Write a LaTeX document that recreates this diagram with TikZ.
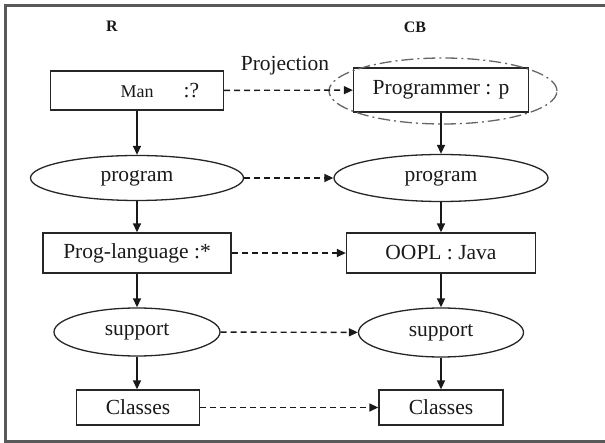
\documentclass[tikz,border=0pt]{standalone}
\usepackage{fontspec}
\setmainfont{Liberation Serif}
\usetikzlibrary{shapes.geometric,arrows.meta}
\tikzstyle{concept} = [draw, shape=rectangle, inner sep=0pt, line width=1.3pt, draw=black!85, text=black!90, font=\fontsize{21.5}{25}\selectfont]
\tikzstyle{relation} = [draw, shape=ellipse, inner sep=0pt, line width=1.3pt, draw=black!85, text=black!90, font=\fontsize{21.5}{25}\selectfont]
\tikzstyle{side} = [font=\bfseries\fontsize{16}{19}\selectfont, text=black!90]
\tikzstyle{link} = [-{Triangle[length=9pt,width=8pt]}, line width=1.4pt, black!90]
\tikzstyle{proj} = [link, dash pattern=on 6pt off 4pt]

\begin{document}
\begin{tikzpicture}[x=1pt,y=-1pt]
    \useasboundingbox (0,0) rectangle (605,443);
    \draw [line width=2.5pt, black!65] (612,5.5) -- (5.5,5.5) -- (5.5,441.5) -- (612,441.5);
    \draw (112,26) node[side] (r) {R};
    \draw (415,27) node[side] (cb) {CB};
    \draw (285,66) node[text=black!90, font=\fontsize{21.5}{25}\selectfont] (projection) {Projection};
    \draw (137,90.5) node[concept, minimum width=173pt, minimum height=39pt] (man) {\hspace*{46pt}{\fontsize{18}{21}\selectfont Man}\hspace{30pt}:?};
    \draw (441,90) node[concept, minimum width=175pt, minimum height=44pt] (programmer) {Programmer : p};
    \draw (443,91) node[draw, shape=ellipse, line width=1.3pt, black!60, dash pattern=on 12pt off 4pt on 2pt off 4pt, minimum width=228pt, minimum height=66pt] (focus) {};
    \draw (137,178) node[relation, minimum width=213pt, minimum height=45pt] (programl) {program};
    \draw (441,178) node[relation, minimum width=214pt, minimum height=47pt] (programr) {program};
    \draw (137,253) node[concept, minimum width=188pt, minimum height=40pt] (langl) {Prog-language :*};
    \draw (441,253) node[concept, minimum width=189pt, minimum height=40pt] (langr) {OOPL : Java};
    \draw (137,332) node[relation, minimum width=166pt, minimum height=48pt] (supportl) {support};
    \draw (441,332.5) node[relation, minimum width=165pt, minimum height=49pt] (supportr) {support};
    \draw (138,407.5) node[concept, minimum width=123pt, minimum height=35pt] (classesl) {Classes};
    \draw (441,407.5) node[concept, minimum width=124pt, minimum height=35pt] (classesr) {Classes};
    % R side
    \draw [link] (man) -- (programl);
    \draw [link] (programl) -- (langl);
    \draw [link] (langl) -- (supportl);
    \draw [link] (supportl) -- (supportl |- classesl.north);
    % CB side
    \draw [link] (programmer) -- (programr);
    \draw [link] (programr) -- (langr);
    \draw [link] (langr) -- (supportr);
    \draw [link] (supportr) -- (classesr);
    % projection
    \draw [proj] (man) -- (programmer);
    \draw [proj] (programl) -- (programr);
    \draw [proj] (langl) -- (langr);
    \draw [proj] (supportl) -- (supportr);
    \draw [proj] (classesl) -- (classesr);
\end{tikzpicture}
\end{document}
